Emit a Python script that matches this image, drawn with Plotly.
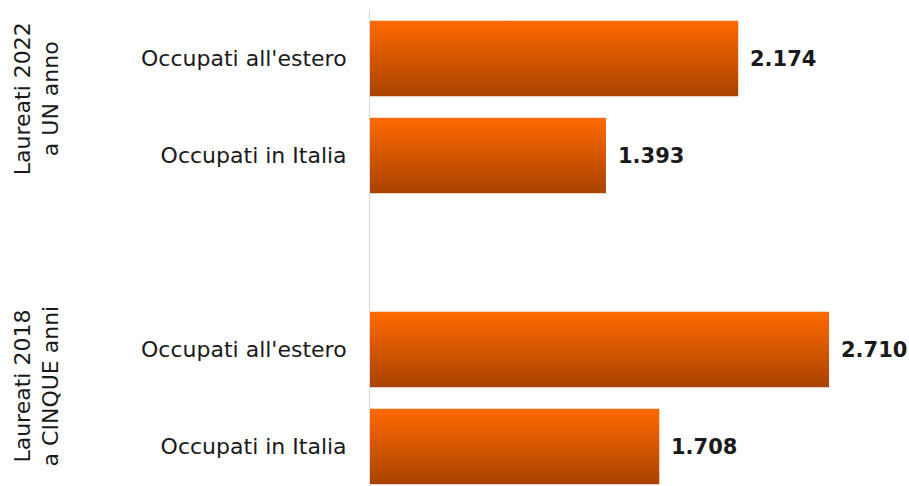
import plotly.graph_objects as go

# Data
categories = ["Occupati all'estero", "Occupati in Italia", "Occupati all'estero", "Occupati in Italia"]
values = [2174, 1393, 2710, 1708]
value_labels = ["2.174", "1.393", "2.710", "1.708"]
positions = [0, 1, 3, 4]
group_labels = ["Laureati 2022<br>a UN anno", "Laureati 2018<br>a CINQUE anni"]
group_centers = [0.42, 3.38]

BAR_HALF = 0.39
TOP_COLOR = "#ff6a00"
BOTTOM_COLOR = "#a84300"
FONT = "DejaVu Sans"

fig = go.Figure()

# Each bar is a filled rectangle with a vertical gradient (bright on top, dark at the bottom)
for pos, val in zip(positions, values):
    y0, y1 = pos - BAR_HALF, pos + BAR_HALF
    fig.add_trace(go.Scatter(
        x=[0, val, val, 0, 0],
        y=[y0, y0, y1, y1, y0],
        mode="lines",
        line=dict(width=0),
        fill="toself",
        fillgradient=dict(
            type="vertical",
            colorscale=[[0, BOTTOM_COLOR], [1, TOP_COLOR]],
        ),
        hoverinfo="skip",
        showlegend=False,
    ))

# Value labels just past the end of each bar
for pos, val, lab in zip(positions, values, value_labels):
    fig.add_annotation(
        text=f"<b>{lab}</b>", x=val, xref="x", y=pos, yref="y",
        xanchor="left", yanchor="middle", xshift=10, showarrow=False,
        font=dict(family=FONT, size=21, color="#1a1a1a"),
    )

# Group labels, rotated, on the far left
for lab, yc in zip(group_labels, group_centers):
    fig.add_annotation(
        text=lab, x=0, xref="paper", y=yc, yref="y", xshift=-333,
        textangle=-90, showarrow=False, xanchor="center", yanchor="middle",
        font=dict(family=FONT, size=22, color="#1a1a1a"),
    )

fig.update_layout(
    width=909, height=486,
    margin=dict(l=370, r=0, t=10, b=0),
    plot_bgcolor="white", paper_bgcolor="white",
    xaxis=dict(range=[0, 3182], visible=False, fixedrange=True),
    yaxis=dict(
        range=[4.407, -0.5],
        tickmode="array", tickvals=positions, ticktext=categories,
        tickfont=dict(family=FONT, size=22, color="#1a1a1a"),
        ticks="", ticklabelstandoff=18,
        showgrid=False, zeroline=False,
        showline=True, linecolor="#d9d9d9", linewidth=1,
    ),
)

fig.write_html("out.html")
